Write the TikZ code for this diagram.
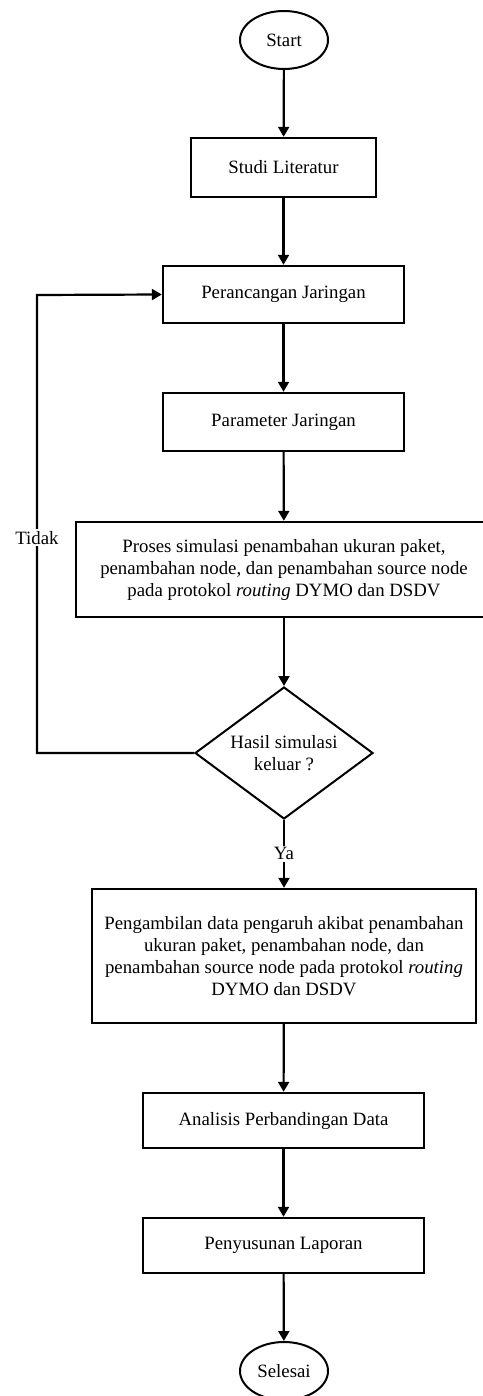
\documentclass[tikz,border=0pt]{standalone}
\usepackage{fontspec}
\setmainfont{Liberation Serif}
\usetikzlibrary{shapes.geometric,arrows.meta}
\begin{document}
\begin{tikzpicture}[x=1pt,y=-1pt,
  font=\fontsize{18.8}{22}\selectfont,
  every node/.style={inner sep=0pt},
  proc/.style={draw,line width=2.4pt,rectangle,align=center},
  term/.style={draw,line width=2pt,ellipse,minimum width=88pt,minimum height=58pt},
  decide/.style={draw,line width=2pt,diamond,aspect=1.35,minimum width=178pt,minimum height=132pt,align=center},
  conn/.style={line width=2.2pt,-{Triangle[length=10pt,width=11pt]}},
  lbl/.style={fill=white,inner sep=2pt}]
\useasboundingbox (0,0) rectangle (482,1396);
\node[term] (start) at (284,40) {Start};
\node[proc,minimum width=185pt,minimum height=59pt] (studi) at (283.5,167.5) {Studi Literatur};
\node[proc,minimum width=241pt,minimum height=57pt] (peranc) at (283.5,294.5) {Perancangan Jaringan};
\node[proc,minimum width=241pt,minimum height=58pt] (param) at (283.5,422) {Parameter Jaringan};
\node[proc,minimum width=416pt,minimum height=95pt] (proses) at (284,569.5) {Proses simulasi penambahan ukuran paket,\\penambahan node, dan penambahan source node\\pada protokol \textit{routing} DYMO dan DSDV};
\node[decide] (hasil) at (284,753) {Hasil simulasi\\keluar ?};
\node[proc,minimum width=384pt,minimum height=134pt] (ambil) at (284,956) {Pengambilan data pengaruh akibat penambahan\\ukuran paket, penambahan node, dan\\penambahan source node pada protokol \textit{routing}\\DYMO dan DSDV};
\node[proc,minimum width=281pt,minimum height=55pt] (analisis) at (283.5,1120.5) {Analisis Perbandingan Data};
\node[proc,minimum width=281pt,minimum height=55pt] (susun) at (283.5,1245.5) {Penyusunan Laporan};
\node[term] (selesai) at (284,1371) {Selesai};
\coordinate (lb) at (37,753);
\coordinate (lt) at (37,295);
\draw[conn] (start) -- (studi);
\draw[conn] (studi) -- (peranc);
\draw[conn] (peranc) -- (param);
\draw[conn] (param) -- (proses);
\draw[conn] (proses) -- (hasil);
\draw[conn] (hasil) -- node[lbl,pos=0.5] (ya) {Ya} (ambil);
\draw[conn] (hasil.west) -- (lb) -- node[lbl,pos=0.47] (tidak) {Tidak} (lt) -- (peranc.west);
\draw[conn] (ambil) -- (analisis);
\draw[conn] (analisis) -- (susun);
\draw[conn] (susun) -- (selesai);
\end{tikzpicture}
\end{document}
